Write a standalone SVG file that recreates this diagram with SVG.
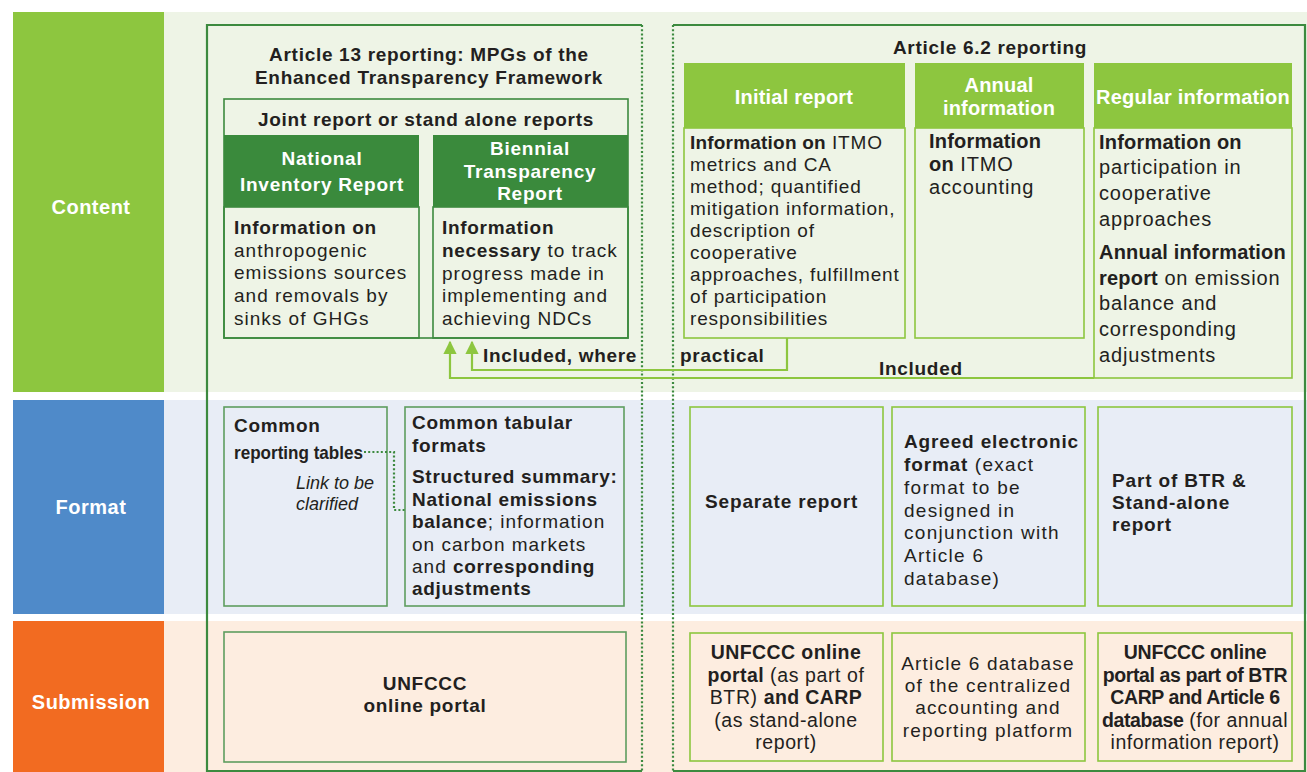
<svg xmlns="http://www.w3.org/2000/svg" width="1307" height="772" viewBox="0 0 1307 772">
  <defs>
    <style>
      .tx { font-family: "Liberation Sans", Arial, sans-serif; fill: #231f20; }
      .lbl { font-family: "Liberation Sans", Arial, sans-serif; font-weight: 700; font-size: 20px; letter-spacing: 0.5px; fill: #ffffff; text-anchor: middle; }
      .hd { font-family: "Liberation Sans", Arial, sans-serif; font-weight: 700; font-size: 19px; letter-spacing: 0.75px; fill: #ffffff; text-anchor: middle; }
      .hl { font-family: "Liberation Sans", Arial, sans-serif; font-weight: 700; font-size: 20px; letter-spacing: 0.2px; fill: #ffffff; text-anchor: middle; }
      .b { font-weight: 700; }
      .mid { text-anchor: middle; }
      .f19 { font-size: 19px; }
      .f20 { font-size: 20px; }
      /* letter spacing sets, wide face on the left, tighter in the Article 6.2 column */
      .bl { font-weight: 700; letter-spacing: 0.7px; }
      .rl { letter-spacing: 1px; }
      .br { font-weight: 700; letter-spacing: 0.2px; }
      .rr { letter-spacing: 0.85px; }
      .bf { font-weight: 700; letter-spacing: 0.85px; }
      .rf { letter-spacing: 1.3px; }
      .dk { fill: none; stroke: #3c8a3f; stroke-width: 1.6; }
      .fm { fill: none; stroke: #5e9d5f; stroke-width: 1.6; }
      .lt { fill: none; stroke: #8dc63f; stroke-width: 1.6; }
      .frame { fill: none; stroke: #3c8a3f; stroke-width: 2.2; }
      .dot { fill: none; stroke: #3c8a3f; stroke-width: 2.2; stroke-dasharray: 2 2.2; }
      .arr { fill: none; stroke: #8dc63f; stroke-width: 2.2; marker-end: url(#head); }
    </style>
    <marker id="head" viewBox="0 0 10 10" refX="9" refY="5" markerWidth="6" markerHeight="6" orient="auto" markerUnits="strokeWidth">
      <path d="M0,0 L10,5 L0,10 Z" fill="#8dc63f"/>
    </marker>
  </defs>

  <rect width="1307" height="772" fill="#ffffff"/>

  <!-- row bands -->
  <g id="bands">
    <rect x="164" y="12" width="1143" height="380" fill="#eef4e6"/>
    <rect x="164" y="400" width="1143" height="214" fill="#e8edf6"/>
    <rect x="164" y="621" width="1143" height="151" fill="#fdede0"/>
  </g>

  <!-- row labels -->
  <g id="label-content">
    <rect x="13" y="12" width="151" height="380" fill="#8dc63f"/>
    <text class="lbl" x="91" y="214">Content</text>
  </g>
  <g id="label-format">
    <rect x="13" y="400" width="151" height="214" fill="#4f8ac9"/>
    <text class="lbl" x="91" y="514">Format</text>
  </g>
  <g id="label-submission">
    <rect x="13" y="621" width="151" height="151" fill="#f26b21"/>
    <text class="lbl" x="91" y="709">Submission</text>
  </g>

  <!-- Article 13 frame -->
  <g id="article13">
    <path class="frame" d="M642,25 H207 V771 H642"/>
    <path class="dot" d="M642,25 V771"/>
    <text class="tx bl f19 mid"><tspan x="429" y="61">Article 13 reporting: MPGs of the</tspan><tspan x="429" y="84">Enhanced Transparency Framework</tspan></text>
  </g>

  <!-- Article 6.2 frame -->
  <g id="article62">
    <path class="frame" d="M673,25 H1305 V771 H673"/>
    <path class="dot" d="M673,25 V771"/>
    <text class="tx bl f19 mid" x="990" y="54">Article 6.2 reporting</text>
  </g>

  <!-- Content row, Article 13 -->
  <g id="joint-report">
    <rect class="dk" x="224" y="99" width="404" height="239"/>
    <text class="tx bl f19 mid" x="426" y="126">Joint report or stand alone reports</text>
  </g>
  <g id="nir">
    <rect x="224" y="135" width="195" height="72" fill="#3a8a3c"/>
    <rect class="dk" x="224" y="207" width="195" height="131"/>
    <text class="hd"><tspan x="322" y="165">National</tspan><tspan x="322" y="191">Inventory Report</tspan></text>
    <text class="tx f19"><tspan class="bl" x="234" y="234">Information on</tspan><tspan class="rl" x="234" y="257">anthropogenic</tspan><tspan class="rl" x="234" y="279">emissions sources</tspan><tspan class="rl" x="234" y="302">and removals by</tspan><tspan class="rl" x="234" y="325">sinks of GHGs</tspan></text>
  </g>
  <g id="btr">
    <rect x="433" y="135" width="195" height="72" fill="#3a8a3c"/>
    <rect class="dk" x="433" y="207" width="195" height="131"/>
    <text class="hd"><tspan x="530" y="155">Biennial</tspan><tspan x="530" y="178">Transparency</tspan><tspan x="530" y="200">Report</tspan></text>
    <text class="tx f19"><tspan class="bl" x="442" y="234">Information</tspan><tspan class="bl" x="442" y="257">necessary</tspan><tspan class="rl"> to track</tspan><tspan class="rl" x="442" y="280">progress made in</tspan><tspan class="rl" x="442" y="302">implementing and</tspan><tspan class="rl" x="442" y="325">achieving NDCs</tspan></text>
  </g>

  <!-- Content row, Article 6.2 -->
  <g id="initial-report">
    <rect x="684" y="63" width="221" height="65" fill="#8dc63f"/>
    <rect class="lt" x="684" y="128" width="221" height="210"/>
    <text class="hl" x="794" y="104">Initial report</text>
    <text class="tx f19"><tspan x="690" y="149"><tspan class="br">Information on</tspan><tspan class="rr"> ITMO</tspan></tspan><tspan class="rr" x="690" y="171">metrics and CA</tspan><tspan class="rr" x="690" y="193">method; quantified</tspan><tspan class="rr" x="690" y="215">mitigation information,</tspan><tspan class="rr" x="690" y="237">description of</tspan><tspan class="rr" x="690" y="259">cooperative</tspan><tspan class="rr" x="690" y="281">approaches, fulfillment</tspan><tspan class="rr" x="690" y="303">of participation</tspan><tspan class="rr" x="690" y="325">responsibilities</tspan></text>
  </g>
  <g id="annual-information">
    <rect x="915" y="63" width="169" height="65" fill="#8dc63f"/>
    <rect class="lt" x="915" y="128" width="169" height="210"/>
    <text class="hl"><tspan x="999" y="92">Annual</tspan><tspan x="999" y="115">information</tspan></text>
    <text class="tx f20"><tspan class="br" x="929" y="148">Information</tspan><tspan x="929" y="171"><tspan class="br">on</tspan><tspan class="rr"> ITMO</tspan></tspan><tspan class="rr" x="929" y="194">accounting</tspan></text>
  </g>
  <g id="regular-information">
    <rect x="1094" y="63" width="198" height="65" fill="#8dc63f"/>
    <rect class="lt" x="1094" y="128" width="198" height="250"/>
    <text class="hl" x="1193" y="104">Regular information</text>
    <text class="tx f20"><tspan class="br" x="1099" y="149">Information on</tspan><tspan class="rr" x="1099" y="174">participation in</tspan><tspan class="rr" x="1099" y="200">cooperative</tspan><tspan class="rr" x="1099" y="226">approaches</tspan></text>
    <text class="tx f20"><tspan class="br" x="1099" y="259">Annual information</tspan><tspan x="1099" y="285"><tspan class="br">report</tspan><tspan class="rr"> on emission</tspan></tspan><tspan class="rr" x="1099" y="310">balance and</tspan><tspan class="rr" x="1099" y="336">corresponding</tspan><tspan class="rr" x="1099" y="362">adjustments</tspan></text>
  </g>

  <!-- Format row -->
  <g id="common-reporting-tables">
    <rect class="fm" x="224" y="407" width="163" height="199"/>
    <text class="tx f19"><tspan class="bl" x="234" y="432">Common</tspan><tspan class="b" x="234" y="459" textLength="129" lengthAdjust="spacingAndGlyphs">reporting tables</tspan></text>
    <text class="tx" font-size="18" font-style="italic" fill="#3a3a3a"><tspan x="296" y="489">Link to be</tspan><tspan x="296" y="510">clarified</tspan></text>
  </g>
  <g id="common-tabular-formats">
    <rect class="fm" x="405" y="407" width="219" height="199"/>
    <text class="tx f19"><tspan class="bl" x="412" y="429">Common tabular</tspan><tspan class="bl" x="412" y="452">formats</tspan></text>
    <text class="tx f19"><tspan class="bl" x="412" y="483">Structured summary:</tspan><tspan class="bl" x="412" y="506">National emissions</tspan><tspan class="bl" x="412" y="528">balance</tspan><tspan class="rl">; information</tspan><tspan class="rl" x="412" y="551">on carbon markets</tspan><tspan class="rl" x="412" y="573">and </tspan><tspan class="bl">corresponding</tspan><tspan class="bl" x="412" y="595">adjustments</tspan></text>
  </g>
  <g id="separate-report">
    <rect class="lt" x="690" y="407" width="193" height="199"/>
    <text class="tx bf f19" x="705" y="508">Separate report</text>
  </g>
  <g id="agreed-electronic-format">
    <rect class="lt" x="892" y="407" width="193" height="199"/>
    <text class="tx f19"><tspan class="bf" x="904" y="448">Agreed electronic</tspan><tspan class="bf" x="904" y="471">format</tspan><tspan class="rf"> (exact</tspan><tspan class="rf" x="904" y="494">format to be</tspan><tspan class="rf" x="904" y="517">designed in</tspan><tspan class="rf" x="904" y="539">conjunction with</tspan><tspan class="rf" x="904" y="562">Article 6</tspan><tspan class="rf" x="904" y="585">database)</tspan></text>
  </g>
  <g id="part-of-btr">
    <rect class="lt" x="1098" y="407" width="194" height="199"/>
    <text class="tx f19"><tspan class="bf" x="1112" y="487">Part of BTR &amp;</tspan><tspan class="bf" x="1112" y="509">Stand-alone</tspan><tspan class="bf" x="1112" y="531">report</tspan></text>
  </g>

  <!-- Submission row -->
  <g id="unfccc-portal">
    <rect class="fm" x="224" y="632" width="402" height="130"/>
    <text class="tx bl f19 mid"><tspan x="425" y="690">UNFCCC</tspan><tspan x="425" y="712">online portal</tspan></text>
  </g>
  <g id="portal-and-carp">
    <rect class="lt" x="690" y="633" width="193" height="128"/>
    <text class="tx mid" font-size="19.5" letter-spacing="0.6"><tspan class="b" letter-spacing="0.4" x="786" y="659">UNFCCC online</tspan><tspan x="786" y="682"><tspan class="b" letter-spacing="0.4">portal</tspan> (as part of</tspan><tspan x="786" y="704">BTR) <tspan class="b" letter-spacing="0.4">and CARP</tspan></tspan><tspan x="786" y="727">(as stand-alone</tspan><tspan x="786" y="749">report)</tspan></text>
  </g>
  <g id="article6-database">
    <rect class="lt" x="892" y="633" width="193" height="128"/>
    <text class="tx f19 mid" letter-spacing="1.2"><tspan x="988" y="670">Article 6 database</tspan><tspan x="988" y="692">of the centralized</tspan><tspan x="988" y="714">accounting and</tspan><tspan x="988" y="737">reporting platform</tspan></text>
  </g>
  <g id="portal-carp-database">
    <rect class="lt" x="1098" y="633" width="194" height="128"/>
    <text class="tx mid" font-size="19.5" letter-spacing="0.5"><tspan class="b" letter-spacing="-0.2" x="1195" y="659">UNFCCC online</tspan><tspan class="b" letter-spacing="-0.4" x="1195" y="682">portal as part of BTR</tspan><tspan class="b" letter-spacing="-0.4" x="1195" y="704">CARP and Article 6</tspan><tspan x="1195" y="727"><tspan class="b" letter-spacing="-0.4">database</tspan> (for annual</tspan><tspan x="1195" y="749">information report)</tspan></text>
  </g>

  <!-- connectors -->
  <g id="connectors">
    <path class="arr" d="M1094,378 H450 V342"/>
    <path class="arr" d="M787,338 V370 H472 V342"/>
    <path class="dot" d="M364,452 H394 V510 H405"/>
    <text class="tx bl f19" x="483" y="362">Included, where</text>
    <text class="tx bl f19" x="680" y="362">practical</text>
    <text class="tx bl f19" x="879" y="375">Included</text>
  </g>
</svg>
